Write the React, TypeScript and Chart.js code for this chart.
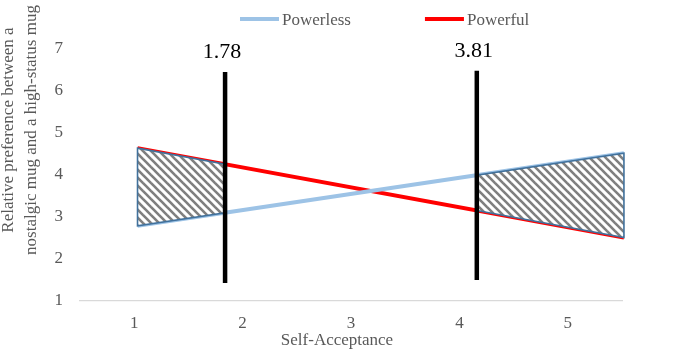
import React, { useEffect, useRef } from "react";
import { Chart, registerables } from "chart.js";

Chart.register(...registerables);

const xLabels = ["1", "2", "3", "4", "5"];
const yTicks = [1, 2, 3, 4, 5, 6, 7];
const seriesNames = ["Powerless", "Powerful"];
const seriesX = [1, 5];
const powerless = [2.79, 4.52];
const powerful = [4.64, 2.51];
const jnPositions = [1.72, 3.79];
const jnLabels = ["1.78", "3.81"];
const jnLow = [1.43, 1.5];
const jnHigh = [6.45, 6.48];
const yTitleLines = ["Relative preference between a", "nostalgic mug and a high-status mug"];
const xTitle = "Self-Acceptance";

const FONT = "'Liberation Serif', 'Times New Roman', serif";
const GREY = "#595959";
const COLORS = ["#9DC3E6", "#FF0000"];

function makePattern(): CanvasPattern | string {
  const s = 8;
  const c = document.createElement("canvas");
  c.width = s;
  c.height = s;
  const g = c.getContext("2d");
  if (!g) return "#888";
  g.fillStyle = "#ffffff";
  g.fillRect(0, 0, s, s);
  g.strokeStyle = "#7f7f7f";
  g.lineWidth = 2.6;
  for (const k of [-s, 0, s]) {
    g.beginPath();
    g.moveTo(-2, -2 + k);
    g.lineTo(s + 2, s + 2 + k);
    g.stroke();
  }
  return g.createPattern(c, "repeat") || "#888";
}

function lerp(xs: number[], ys: number[], x: number) {
  const t = (x - xs[0]) / (xs[1] - xs[0]);
  return ys[0] + t * (ys[1] - ys[0]);
}

const hatchPlugin = {
  id: "hatchRegions",
  beforeDatasetsDraw(chart: any) {
    chart.$hatchDone = false;
  },
  beforeDatasetDraw(chart: any, args: any) {
    const ds = chart.data.datasets[args.index];
    if (!ds.isJN || chart.$hatchDone) return;
    chart.$hatchDone = true;
    const xs = chart.scales.x2;
    const ys = chart.scales.y;
    const ctx = chart.ctx;
    const regions = [
      [seriesX[0], jnPositions[0]],
      [jnPositions[1], seriesX[1]],
    ];
    const pattern = makePattern();
    for (const [a, b] of regions) {
      const xa = xs.getPixelForValue(a);
      const xb = xs.getPixelForValue(b);
      const ta = ys.getPixelForValue(lerp(seriesX, powerful, a));
      const tb = ys.getPixelForValue(lerp(seriesX, powerful, b));
      const ba = ys.getPixelForValue(lerp(seriesX, powerless, a));
      const bb = ys.getPixelForValue(lerp(seriesX, powerless, b));
      ctx.save();
      ctx.beginPath();
      ctx.moveTo(xa, ta);
      ctx.lineTo(xb, tb);
      ctx.lineTo(xb, bb);
      ctx.lineTo(xa, ba);
      ctx.closePath();
      ctx.fillStyle = pattern;
      ctx.fill();
      ctx.strokeStyle = "#41719C";
      ctx.lineWidth = 1.6;
      ctx.lineJoin = "miter";
      ctx.stroke();
      ctx.restore();
    }
  },
  afterDraw(chart: any) {
    const ctx = chart.ctx;
    const xs = chart.scales.x2;
    const ys = chart.scales.y;
    const xc = chart.scales.x;
    ctx.save();
    // JN labels
    ctx.fillStyle = "#000";
    ctx.font = `22px ${FONT}`;
    ctx.textAlign = "center";
    ctx.textBaseline = "alphabetic";
    jnPositions.forEach((p, i) => {
      const x = xs.getPixelForValue(p);
      const y = ys.getPixelForValue(jnHigh[i]);
      ctx.fillText(jnLabels[i], x - 3, y - 14);
    });
    // legend
    ctx.font = `17px ${FONT}`;
    ctx.textAlign = "left";
    let x = 240;
    const yMid = 19;
    seriesNames.forEach((name, i) => {
      ctx.fillStyle = COLORS[i];
      ctx.fillRect(x, yMid - 2, 39, 4);
      x += 42;
      ctx.fillStyle = GREY;
      ctx.fillText(name, x, 25);
      x += ctx.measureText(name).width + 74;
    });
    // x title
    ctx.fillStyle = GREY;
    ctx.textAlign = "center";
    ctx.fillText(xTitle, (xc.left + xc.right) / 2 - 14, 345);
    // y title
    const baseX = [12.5, 36];
    yTitleLines.forEach((line, i) => {
      ctx.save();
      ctx.translate(baseX[i], 130);
      ctx.rotate(-Math.PI / 2);
      ctx.fillText(line, 0, 0);
      ctx.restore();
    });
    ctx.restore();
  },
};

export default function App() {
  const ref = useRef<HTMLCanvasElement | null>(null);
  useEffect(() => {
    document.body.style.margin = "0";
    if (!ref.current) return;
    const seriesData = [powerless, powerful];
    const datasets: any[] = seriesNames.map((name, i) => ({
      label: name,
      data: seriesX.map((x, j) => ({ x, y: seriesData[i][j] })),
      xAxisID: "x2",
      borderColor: COLORS[i],
      backgroundColor: COLORS[i],
      borderWidth: 4,
      pointRadius: 0,
      fill: false,
      clip: false,
      order: 2,
    }));
    jnPositions.forEach((p, i) => {
      datasets.push({
        label: "JN " + jnLabels[i],
        isJN: true,
        data: [
          { x: p, y: jnLow[i] },
          { x: p, y: jnHigh[i] },
        ],
        xAxisID: "x2",
        borderColor: "#000",
        borderWidth: 4.5,
        borderCapStyle: "butt",
        pointRadius: 0,
        fill: false,
        clip: false,
        order: 1,
      });
    });
    const chart = new Chart(ref.current, {
      type: "line",
      data: { labels: xLabels, datasets },
      plugins: [hatchPlugin],
      options: {
        animation: false,
        responsive: true,
        maintainAspectRatio: false,
        layout: { padding: { top: 49, right: 63, left: 0, bottom: 0 } },
        plugins: {
          legend: { display: false },
          tooltip: { enabled: false },
        },
        scales: {
          x: {
            type: "category",
            labels: xLabels,
            offset: true,
            grid: { display: false, drawTicks: false },
            border: { display: true, color: "#d9d9d9", width: 1.2 },
            ticks: { color: GREY, font: { family: FONT, size: 17 }, padding: 12 },
            title: { display: false },
            afterFit: (s: any) => {
              s.height = 55;
            },
          },
          x2: {
            type: "linear",
            display: false,
            min: 0.527,
            max: 4.984,
          },
          y: {
            type: "linear",
            min: 1,
            max: 7,
            grid: { display: false, drawTicks: false },
            border: { display: false },
            ticks: {
              stepSize: 1,
              color: GREY,
              font: { family: FONT, size: 17 },
              padding: 17,
              callback: (v: any) => (yTicks.includes(Number(v)) ? String(v) : ""),
            },
            afterFit: (s: any) => {
              s.width = 80;
            },
          },
        },
      } as any,
    });
    return () => chart.destroy();
  }, []);
  return (
    <div style={{ width: 685, height: 356, position: "relative" }}>
      <canvas ref={ref} />
    </div>
  );
}
